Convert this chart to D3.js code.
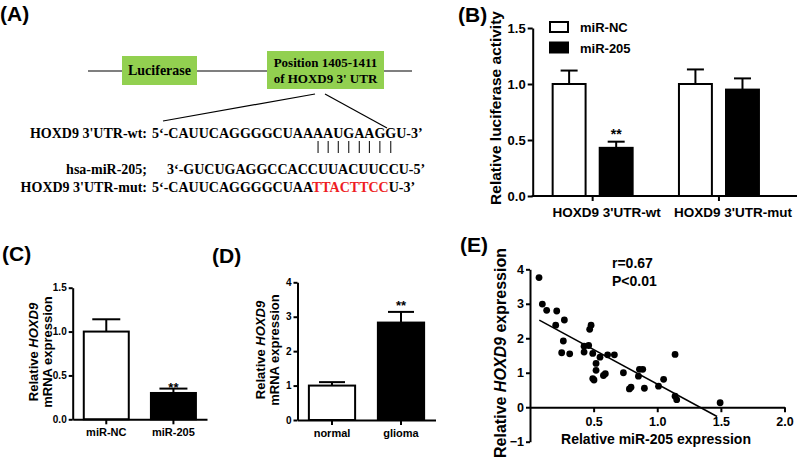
<!DOCTYPE html>
<html lang="en">
<head>
  <meta charset="utf-8">
  <title>HOXD9 / miR-205 figure</title>
  <script src="https://d3js.org/d3.v7.min.js"></script>
  <style>
    body { margin: 0; background: #fff; }
  </style>
</head>
<body>
<script>

// ---- data ----
// panel A: sequences
var wtLabel = "HOXD9 3'UTR-wt:",
    mirLabel = "hsa-miR-205;",
    mutLabel = "HOXD9 3'UTR-mut:";
var wtSeq = "5\u2018-CAUUCAGGGGCUAAAAUGAAGGU-3\u2019";
var mirSeq = "3\u2018-GUCUGAGGCCACCUUACUUCCU-5\u2019";
var mutParts = ["5\u2018-CAUUCAGGGGCUAA", "TTACTTCC", "U-3\u2019"];
var pairIdx = [17, 18, 19, 20, 21, 22, 23, 24]; // wt chars paired with miR-205

// panel B
var groupsB = ["HOXD9 3'UTR-wt", "HOXD9 3'UTR-mut"];
var seriesB = ["miR-NC", "miR-205"];
var meanB = [[1.00, 0.43], [1.00, 0.95]];
var errB  = [[0.12, 0.055], [0.13, 0.10]];
var starsB = [["", "**"], ["", ""]];
var ticksB = [0, 0.5, 1.0, 1.5];

// panel C
var catsC = ["miR-NC", "miR-205"];
var meanC = [1.00, 0.30];
var errC  = [0.14, 0.05];
var starsC = ["", "**"];
var ticksC = [0, 0.5, 1.0, 1.5];

// panel D
var catsD = ["normal", "glioma"];
var meanD = [1.00, 2.83];
var errD  = [0.10, 0.31];
var starsD = ["", "**"];
var ticksD = [0, 1, 2, 3, 4];

// panel E
var xE = [0.071, 0.097, 0.131, 0.21, 0.202, 0.27, 0.262, 0.249, 0.312, 0.48,
          0.469, 0.425, 0.461, 0.425, 0.493, 0.55, 0.519, 0.519, 0.493, 0.503,
          0.577, 0.592, 0.61, 0.663, 0.734, 0.781, 0.794, 0.852, 0.86, 0.886,
          0.899, 1.01, 1.05, 1.14, 1.14, 1.153, 1.494];
var yE = [3.76, 2.99, 2.81, 2.79, 2.38, 2.53, 1.92, 1.58, 1.55, 2.38,
          2.26, 1.77, 1.79, 1.60, 1.56, 1.45, 1.27, 1.07, 0.83, 0.79,
          0.92, 0.97, 1.52, 1.52, 1.00, 0.53, 0.58, 0.90, 1.10, 1.10,
          0.55, 0.61, 0.81, 1.53, 0.32, 0.22, 0.13];
var fitE = { slope: -2.0, intercept: 2.67, from: 0.073, to: 1.47 };
var statsE = ["r=0.67", "P<0.01"];
var ticksEx = [0.5, 1.0, 1.5, 2.0];
var ticksEy = [-1, 0, 1, 2, 3, 4];

var sans = "'Liberation Sans', Arial, sans-serif",
    serif = "'Liberation Serif', 'Times New Roman', serif";

var svg = d3.select("body").append("svg")
    .attr("width", 800)
    .attr("height", 464);
svg.append("rect").attr("width", 800).attr("height", 464).attr("fill", "#fff");

function styleAxis(g, fs) {
  g.attr("font-family", sans).attr("font-size", fs).attr("font-weight", "bold");
  g.select(".domain").attr("stroke-width", 2).attr("stroke", "#000");
  g.selectAll(".tick line").attr("stroke-width", 2).attr("stroke", "#000");
  g.selectAll(".tick text").attr("fill", "#000");
}

function panelLabel(txt, x, y) {
  svg.append("text").attr("x", x).attr("y", y)
      .attr("font-family", sans).attr("font-size", 21).attr("font-weight", "bold")
      .text(txt);
}

// ================= panel A =================
panelLabel("(A)", 0, 21);
var gA = svg.append("g").attr("font-family", serif).attr("font-weight", "bold");

gA.append("line").attr("x1", 88).attr("x2", 412).attr("y1", 71).attr("y2", 71)
    .attr("stroke", "#000").attr("stroke-width", 1.2);

gA.append("rect").attr("x", 122).attr("y", 56).attr("width", 75).attr("height", 29)
    .attr("fill", "#92d050");
gA.append("text").attr("x", 159.5).attr("y", 75).attr("text-anchor", "middle")
    .attr("font-size", 14).text("Luciferase");

gA.append("rect").attr("x", 267).attr("y", 51).attr("width", 117).attr("height", 38)
    .attr("fill", "#92d050");
gA.append("text").attr("x", 325.5).attr("y", 67).attr("text-anchor", "middle")
    .attr("font-size", 13).text("Position 1405-1411");
gA.append("text").attr("x", 325.5).attr("y", 83).attr("text-anchor", "middle")
    .attr("font-size", 13).text("of HOXD9 3' UTR");

gA.append("line").attr("x1", 315).attr("y1", 94).attr("x2", 163).attr("y2", 121)
    .attr("stroke", "#000").attr("stroke-width", 1.2);
gA.append("line").attr("x1", 325).attr("y1", 94).attr("x2", 387).attr("y2", 128)
    .attr("stroke", "#000").attr("stroke-width", 1.2);

var seqFs = 14;
[[wtLabel, 138], [mirLabel, 174], [mutLabel, 192]].forEach(function(d) {
  gA.append("text").attr("x", 147).attr("y", d[1]).attr("text-anchor", "end")
      .attr("font-size", seqFs).text(d[0]);
});

var wtText = gA.append("text").attr("x", 152).attr("y", 138)
    .attr("font-size", seqFs).text(wtSeq);
gA.append("text").attr("x", 167).attr("y", 174)
    .attr("font-size", seqFs).text(mirSeq);
var mutText = gA.append("text").attr("x", 152).attr("y", 192).attr("font-size", seqFs);
mutText.append("tspan").text(mutParts[0]);
mutText.append("tspan").attr("fill", "#ee1c24").text(mutParts[1]);
mutText.append("tspan").text(mutParts[2]);

var wtNode = wtText.node();
pairIdx.forEach(function(i) {
  var r = wtNode.getExtentOfChar(i);
  var cx = r.x + r.width / 2;
  gA.append("line").attr("x1", cx).attr("x2", cx).attr("y1", 141).attr("y2", 153)
      .attr("stroke", "#000").attr("stroke-width", 1);
});

// ================= panel B =================
panelLabel("(B)", 458, 22);
var yB = d3.scaleLinear().domain([0, 1.5]).range([196, 28]);
var xB = d3.scaleBand().domain(groupsB).range([529.5, 782.1]);
var xBi = d3.scaleBand().domain(seriesB).range([-40, 40]).paddingInner(0.3);
var fillB = { "miR-NC": "#fff", "miR-205": "#000" };

var barsB = [];
groupsB.forEach(function(g, gi) {
  seriesB.forEach(function(s, si) {
    barsB.push({ g: g, s: s, v: meanB[gi][si], e: errB[gi][si], star: starsB[gi][si] });
  });
});

var gB = svg.append("g");
var bB = gB.selectAll(".barB").data(barsB).enter().append("g")
    .attr("transform", function(d) { return "translate(" + (xB(d.g) + xB.bandwidth() / 2 + xBi(d.s)) + ",0)"; });
bB.append("line")
    .attr("x1", xBi.bandwidth() / 2).attr("x2", xBi.bandwidth() / 2)
    .attr("y1", function(d) { return yB(d.v); })
    .attr("y2", function(d) { return yB(d.v + d.e); })
    .attr("stroke", "#000").attr("stroke-width", 2);
bB.append("line")
    .attr("x1", xBi.bandwidth() / 2 - 8.5).attr("x2", xBi.bandwidth() / 2 + 8.5)
    .attr("y1", function(d) { return yB(d.v + d.e); })
    .attr("y2", function(d) { return yB(d.v + d.e); })
    .attr("stroke", "#000").attr("stroke-width", 2);
bB.append("rect")
    .attr("x", 0).attr("width", xBi.bandwidth())
    .attr("y", function(d) { return yB(d.v); })
    .attr("height", function(d) { return yB(0) - yB(d.v); })
    .attr("fill", function(d) { return fillB[d.s]; })
    .attr("stroke", "#000").attr("stroke-width", 2);
bB.append("text")
    .attr("x", xBi.bandwidth() / 2)
    .attr("y", function(d) { return yB(d.v + d.e) - 3; })
    .attr("text-anchor", "middle")
    .attr("font-family", sans).attr("font-size", 14).attr("font-weight", "bold")
    .text(function(d) { return d.star; });

gB.append("g").attr("transform", "translate(532.7,0)")
    .call(d3.axisLeft(yB).tickValues(ticksB).tickFormat(d3.format(".1f")).tickSize(5).tickPadding(2).tickSizeOuter(0))
    .call(styleAxis, 13);
var axB = gB.append("g").attr("transform", "translate(0,196)")
    .call(d3.axisBottom(xB).tickSize(5).tickPadding(6).tickSizeOuter(0))
    .call(styleAxis, 13.5);
axB.select(".domain").remove();
axB.selectAll(".tick text").attr("dx", 14);
gB.append("line").attr("x1", 531.7).attr("x2", 797).attr("y1", 196).attr("y2", 196)
    .attr("stroke", "#000").attr("stroke-width", 2);

gB.append("text")
    .attr("transform", "translate(500.5,108) rotate(-90)")
    .attr("text-anchor", "middle")
    .attr("font-family", sans).attr("font-size", 15.5).attr("font-weight", "bold")
    .text("Relative luciferase activity");

var legB = gB.selectAll(".legB").data(seriesB).enter().append("g")
    .attr("transform", function(d, i) { return "translate(550," + (22 + i * 20.5) + ")"; });
legB.append("rect").attr("width", 18).attr("height", 10)
    .attr("fill", function(d) { return fillB[d]; })
    .attr("stroke", "#000").attr("stroke-width", 2);
legB.append("text").attr("x", 30).attr("y", 10)
    .attr("font-family", sans).attr("font-size", 13).attr("font-weight", "bold")
    .text(function(d) { return d; });

// ================= panels C and D =================
function simpleBars(opt) {
  var y = d3.scaleLinear().domain(opt.domain).range([opt.y0, opt.y1]);
  var x = d3.scaleBand().domain(opt.cats).range([opt.x0, opt.x1])
      .paddingInner(0.33).paddingOuter(0.165);
  var rows = opt.cats.map(function(c, i) {
    return { c: c, v: opt.mean[i], e: opt.err[i], star: opt.stars[i], fill: i === 0 ? "#fff" : "#000" };
  });
  var g = svg.append("g");
  var b = g.selectAll("g.bar").data(rows).enter().append("g").attr("class", "bar")
      .attr("transform", function(d) { return "translate(" + x(d.c) + ",0)"; });
  var mid = x.bandwidth() / 2;
  b.append("line").attr("x1", mid).attr("x2", mid)
      .attr("y1", function(d) { return y(d.v); })
      .attr("y2", function(d) { return y(d.v + d.e); })
      .attr("stroke", "#000").attr("stroke-width", 2);
  b.append("line").attr("x1", mid - opt.cap).attr("x2", mid + opt.cap)
      .attr("y1", function(d) { return y(d.v + d.e); })
      .attr("y2", function(d) { return y(d.v + d.e); })
      .attr("stroke", "#000").attr("stroke-width", 2);
  b.append("rect").attr("x", 0).attr("width", x.bandwidth())
      .attr("y", function(d) { return y(d.v); })
      .attr("height", function(d) { return y(0) - y(d.v); })
      .attr("fill", function(d) { return d.fill; })
      .attr("stroke", "#000").attr("stroke-width", 2);
  b.append("text").attr("x", mid)
      .attr("y", function(d) { return y(d.v + d.e) + opt.starGap; })
      .attr("text-anchor", "middle")
      .attr("font-family", sans).attr("font-size", 13).attr("font-weight", "bold")
      .text(function(d) { return d.star; });

  g.append("g").attr("transform", "translate(" + opt.x0 + ",0)")
      .call(d3.axisLeft(y).tickValues(opt.ticks).tickFormat(opt.fmt).tickSize(4).tickPadding(2).tickSizeOuter(0))
      .call(styleAxis, 10);
  g.append("g").attr("transform", "translate(0," + opt.y0 + ")")
      .call(d3.axisBottom(x).tickSize(5).tickPadding(4).tickSizeOuter(0))
      .call(styleAxis, 11);

  // two-line y title, HOXD9 in italics
  var t1 = g.append("text")
      .attr("transform", "translate(" + opt.labX + "," + opt.labY + ") rotate(-90)")
      .attr("text-anchor", "middle")
      .attr("font-family", sans).attr("font-size", 13).attr("font-weight", "bold");
  t1.append("tspan").text("Relative  ");
  t1.append("tspan").attr("font-style", "italic").text("HOXD9");
  g.append("text")
      .attr("transform", "translate(" + (opt.labX + 14.5) + "," + opt.labY + ") rotate(-90)")
      .attr("text-anchor", "middle")
      .attr("font-family", sans).attr("font-size", 13).attr("font-weight", "bold")
      .text("mRNA expression");
}

panelLabel("(C)", 2, 261);
simpleBars({ cats: catsC, mean: meanC, err: errC, stars: starsC, ticks: ticksC,
  fmt: d3.format(".1f"), domain: [0, 1.5], x0: 72.7, x1: 207, y0: 419.3, y1: 287.7,
  cap: 14, starGap: 3, labX: 37.5, labY: 352 });

panelLabel("(D)", 212, 263);
simpleBars({ cats: catsD, mean: meanD, err: errD, stars: starsD, ticks: ticksD,
  fmt: d3.format("d"), domain: [0, 4], x0: 297.5, x1: 435.5, y0: 420, y1: 282.3,
  cap: 13, starGap: -2, labX: 264.5, labY: 350 });

// ================= panel E =================
panelLabel("(E)", 460, 252);
var xEs = d3.scaleLinear().domain([0, 2]).range([530, 784.5]);
var yEs = d3.scaleLinear().domain([-1, 4]).range([441.7, 269.3]);
var gE = svg.append("g");

gE.append("g").attr("transform", "translate(530,0)")
    .call(d3.axisLeft(yEs).tickValues(ticksEy).tickFormat(d3.format("d")).tickSize(4).tickPadding(2).tickSizeOuter(0))
    .call(styleAxis, 12.5);
gE.append("g").attr("transform", "translate(0," + yEs(0) + ")")
    .call(d3.axisBottom(xEs).tickValues(ticksEx).tickFormat(d3.format(".1f")).tickSize(5).tickPadding(5).tickSizeOuter(0))
    .call(styleAxis, 12.5);

gE.selectAll("circle").data(xE).enter().append("circle")
    .attr("cx", function(d) { return xEs(d); })
    .attr("cy", function(d, i) { return yEs(yE[i]); })
    .attr("r", 3.4)
    .attr("fill", "#000");

var fitPts = [fitE.from, fitE.to];
gE.append("path")
    .datum(fitPts)
    .attr("d", d3.line()
        .x(function(d) { return xEs(d); })
        .y(function(d) { return yEs(fitE.intercept + fitE.slope * d); }))
    .attr("stroke", "#000").attr("stroke-width", 1.5).attr("fill", "none");

gE.selectAll(".stat").data(statsE).enter().append("text")
    .attr("x", 612).attr("y", function(d, i) { return 268 + i * 18; })
    .attr("font-family", sans).attr("font-size", 14).attr("font-weight", "bold")
    .text(function(d) { return d; });

gE.append("text").attr("x", 656).attr("y", 443.5).attr("text-anchor", "middle")
    .attr("font-family", sans).attr("font-size", 14).attr("font-weight", "bold")
    .text("Relative miR-205 expression");

var tE = gE.append("text")
    .attr("transform", "translate(506,353) rotate(-90)")
    .attr("text-anchor", "middle")
    .attr("font-family", sans).attr("font-size", 16).attr("font-weight", "bold");
tE.append("tspan").text("Relative ");
tE.append("tspan").attr("font-style", "italic").text("HOXD9");
tE.append("tspan").text(" expression");

</script>
</body>
</html>
